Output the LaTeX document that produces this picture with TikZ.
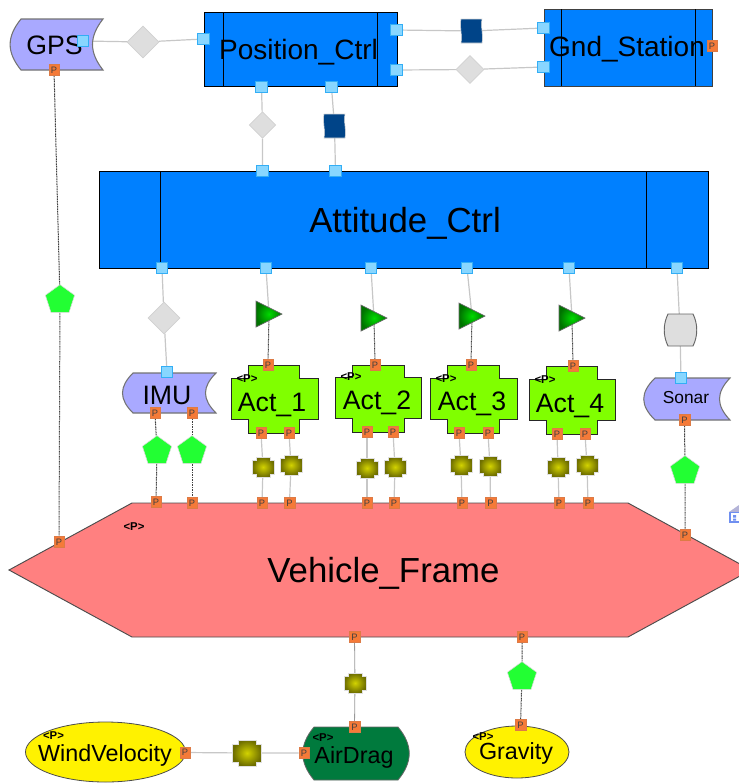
\documentclass[tikz,border=0pt]{standalone}
\usepackage{fontspec}
\setmainfont{Liberation Sans}
\usetikzlibrary{backgrounds,shapes.geometric}
\definecolor{ctrlblue}{HTML}{0080FF}
\definecolor{portblue}{HTML}{88D6FF}
\definecolor{portedge}{HTML}{33AEF5}
\definecolor{portorange}{HTML}{F57A38}
\definecolor{sensor}{HTML}{A9A9FF}
\definecolor{actgreen}{HTML}{80FF00}
\definecolor{framered}{HTML}{FF8080}
\definecolor{dragreen}{HTML}{007A3D}
\definecolor{penta}{HTML}{22FF33}
\definecolor{diam}{HTML}{DEDEDE}
\definecolor{navy2}{HTML}{004488}
\definecolor{iconblue}{HTML}{6F8FF0}
\definecolor{iconroof}{HTML}{B4B4D8}
\tikzset{
  px/.style={x=0.75pt,y=-0.75pt},
  label21/.style={anchor=base,inner sep=0pt,font=\fontsize{21}{21}\selectfont},
  label27/.style={anchor=base,inner sep=0pt,font=\fontsize{26.1}{27}\selectfont},
  label20/.style={anchor=base,inner sep=0pt,font=\fontsize{20}{20}\selectfont},
  label17/.style={anchor=base,inner sep=0pt,font=\fontsize{17.5}{18}\selectfont},
  tagp/.style={inner sep=0pt,font=\fontsize{8.5}{9}\bfseries\selectfont},
  ctrlbox/.style={draw=black,line width=0.7pt,fill=ctrlblue},
  ctrlline/.style={draw=black,line width=0.6pt},
  sensorbox/.style={draw=black!55,line width=0.8pt,fill=sensor},
  actbox/.style={draw=black!85,line width=0.7pt,fill=actgreen},
  svcport/.style={draw=portedge,fill=portblue,line width=0.6pt,minimum size=8.5pt,inner sep=0pt},
  parport/.style={draw=portorange!80!gray,fill=portorange,line width=0.3pt,minimum width=7.8pt,minimum height=8.5pt,inner sep=0pt,text=black!75,font=\fontsize{7}{7}\selectfont},
  diamondsym/.style={diamond,aspect=1,draw=black!18,fill=diam,line width=0.5pt,inner sep=0pt},
  pentsym/.style={regular polygon,regular polygon sides=5,draw=black!15,fill=penta,line width=0.4pt,inner sep=0pt,minimum size=23pt},
  svcline/.style={draw=black!22,line width=0.9pt},
  parline/.style={draw=black!75,dash pattern=on 0.8pt off 0.45pt,line width=0.75pt},
  thinline/.style={draw=black!40,line width=0.6pt},
}
% symbols: name, x, y
\newcommand{\svcp}[3]{\node[svcport] (#1) at (#2,#3) {};}
\newcommand{\parp}[3]{\node[parport] (#1) at (#2,#3) {P};}
\newcommand{\olivesym}[4]{\coordinate (#1) at (#2,#3);
  \shade[inner color=yellow!65!olive,outer color=olive!85!black,draw=black!12,line width=0.4pt]
   (#2-#4*0.68,#3-#4) -- (#2+#4*0.68,#3-#4) -- (#2+#4*0.68,#3-#4*0.68) -- (#2+#4*1.1,#3-#4*0.68)
   -- (#2+#4*1.1,#3+#4*0.68) -- (#2+#4*0.68,#3+#4*0.68) -- (#2+#4*0.68,#3+#4) -- (#2-#4*0.68,#3+#4)
   -- (#2-#4*0.68,#3+#4*0.68) -- (#2-#4*1.1,#3+#4*0.68) -- (#2-#4*1.1,#3-#4*0.68) -- (#2-#4*0.68,#3-#4*0.68) -- cycle;}
\newcommand{\trisym}[3]{\coordinate (#1) at (#2+13,#3);
  \shade[inner color=green!85!black,outer color=green!45!black,draw=black!60,line width=0.5pt]
   (#2,#3-13) -- (#2+26,#3) -- (#2,#3+13) -- cycle;}
\newcommand{\navysym}[3]{\coordinate (#1) at (#2,#3);
  \fill[navy2,draw=black!15,line width=0.4pt] (#2-10.5,#3-12) -- (#2+10.5,#3-12)
   .. controls (#2+9,#3-4) and (#2+12,#3+4) .. (#2+10.5,#3+12) -- (#2-10.5,#3+12)
   .. controls (#2-9,#3+4) and (#2-12,#3-4) .. (#2-10.5,#3-12) -- cycle;}
% sensor: left, tl, right, concave, top, bottom
\newcommand{\sensorshape}[6]{\path[sensorbox] (#2,#5) -- (#3,#5)
   .. controls (#4-3,#5+0.35*#6-0.35*#5) and (#4-3,#6-0.35*#6+0.35*#5) .. (#3,#6) -- (#2,#6)
   .. controls (#1-3,#6-0.35*#6+0.35*#5) and (#1-3,#5+0.35*#6-0.35*#5) .. (#2,#5) -- cycle;}
% act: x0,x1,x2,x3,y0,y1,y2,y3
\newcommand{\actshape}[8]{\path[actbox] (#2,#5) -- (#3,#5) -- (#3,#6) -- (#4,#6) -- (#4,#7) -- (#3,#7)
   -- (#3,#8) -- (#2,#8) -- (#2,#7) -- (#1,#7) -- (#1,#6) -- (#2,#6) -- cycle;}
\begin{document}
\begin{tikzpicture}[px]
\useasboundingbox (0,0) rectangle (739,783);
% large shapes
\begin{scope}
\clip (0,0) rectangle (739,783);
\path[fill=framered,draw=black!70,line width=0.7pt] (132,503) -- (628,503) -- (751,570) -- (628,637) -- (132,637) -- (9,570) -- cycle;
\fill[iconroof] (729,512) -- (739,505) -- (745,512) -- cycle;
\path[fill=white,draw=iconblue,line width=1pt] (730,512.5) rectangle (745,522);
\fill[iconblue] (733,515) rectangle (736,517.5) (733,518.5) rectangle (736,520.5);
\end{scope}
\path[ctrlbox] (204,12) rectangle (397,86);
\draw[ctrlline] (223,12) -- (223,86) (377,12) -- (377,86);
\path[ctrlbox,draw=black!75] (544,9) rectangle (712,86);
\draw[ctrlline] (561,9) -- (561,86) (695,9) -- (695,86);
\path[ctrlbox] (99,171) rectangle (708,268);
\draw[ctrlline] (160.5,171) -- (160.5,268) (646.5,171) -- (646.5,268);
\sensorshape{9.5}{21}{103}{92}{19}{70}
\sensorshape{122}{133}{216}{205}{373}{413}
\sensorshape{643}{655}{730}{719}{378}{420}
\actshape{231}{248}{299}{318}{365}{378}{419}{433}
\actshape{335}{352}{404}{421}{365}{377}{418}{432}
\actshape{430}{447}{499}{517}{365}{378}{419}{433}
\actshape{529}{546}{597}{615}{366}{379}{420}{434}
\path[fill=yellow,draw=black!70,line width=0.6pt] (105.5,752) ellipse [x radius=80,y radius=30];
\path[fill=yellow,draw=black!70,line width=0.6pt] (517,752) ellipse [x radius=52,y radius=26];
\path[fill=dragreen,draw=black!60,line width=0.6pt] (314,727) -- (398,727)
  .. controls (413,745) and (413,762) .. (398,780) -- (314,780)
  .. controls (299,762) and (299,745) .. (314,727) -- cycle;
% labels
\node[label21] (posctrl) at (298.5,59) {Position\_Ctrl};
\node[label21] (gnd) at (627,56) {Gnd\_Station};
\node[label27] (att) at (405,232) {Attitude\_Ctrl};
\node[label27] (frame) at (383.5,582) {Vehicle\_Frame};
\node[label20] (gps) at (54.5,54) {GPS};
\node[label20] (imu) at (167,404) {IMU};
\node[label20] (act1) at (272,411) {Act\_1};
\node[label20] (act2) at (377,409) {Act\_2};
\node[label20] (act3) at (472,410) {Act\_3};
\node[label20] (act4) at (570,412) {Act\_4};
\node[anchor=base,inner sep=0pt,font=\fontsize{13}{13}\selectfont] (sonar) at (686,403) {Sonar};
\node[label17] (wind) at (105,761.5) {WindVelocity};
\node[label17] (drag) at (354,763) {AirDrag};
\node[label17] (grav) at (516,759) {Gravity};
% <P> tags
\node[tagp] (t1) at (247,379) {<P>};
\node[tagp] (t2) at (351,377) {<P>};
\node[tagp] (t3) at (446,379) {<P>};
\node[tagp] (t4) at (545,380) {<P>};
\node[tagp] (t5) at (134,527) {<P>};
\node[tagp] (t6) at (53.5,736) {<P>};
\node[tagp] (t7) at (323,738) {<P>};
\node[tagp] (t8) at (483,737) {<P>};
% service ports
\svcp{gpsS}{83}{41}
\svcp{posL}{203.5}{39}
\svcp{posB1}{261.5}{87}
\svcp{posB2}{331.5}{87}
\svcp{attT1}{262.5}{171}
\svcp{attT2}{335.5}{171}
\svcp{posR1}{396.5}{30}
\svcp{posR2}{396.5}{70}
\svcp{gndL1}{543.5}{28}
\svcp{gndL2}{543.5}{67}
\svcp{attB1}{162}{268}
\svcp{attB2}{266}{268}
\svcp{attB3}{371}{268}
\svcp{attB4}{467}{268}
\svcp{attB5}{569}{268}
\svcp{attB6}{677}{268}
\svcp{imuS}{167}{372}
\svcp{sonS}{681}{378}
% parameter ports
\parp{gpsP}{54}{70}
\parp{gndP}{712}{46}
\parp{imuP1}{155}{413}
\parp{imuP2}{192}{413}
\parp{sonP}{684.5}{420}
\parp{a1T}{268}{365}
\parp{a2T}{375}{365}
\parp{a3T}{471}{365}
\parp{a4T}{573}{366}
\parp{a1B1}{261}{433}
\parp{a1B2}{289}{433}
\parp{a2B1}{367}{432}
\parp{a2B2}{393}{432}
\parp{a3B1}{459}{433}
\parp{a3B2}{488}{433}
\parp{a4B1}{557}{434}
\parp{a4B2}{585}{434}
\parp{f1}{156}{502}
\parp{f2}{192}{503}
\parp{f3}{262}{503}
\parp{f4}{289.5}{503}
\parp{f5}{367}{503}
\parp{f6}{394}{503}
\parp{f7}{462}{503}
\parp{f8}{490.5}{503}
\parp{f9}{559}{503}
\parp{f10}{588}{503}
\parp{fGps}{59}{542}
\parp{fSon}{685}{535}
\parp{fB1}{354.5}{637}
\parp{fB2}{522}{637}
\parp{dragT}{354.5}{727}
\parp{gravT}{520.5}{725}
\parp{windP}{185}{752.5}
\parp{dragL}{304}{753}
% connector symbols
\node[diamondsym,minimum size=24pt] (d1) at (143,42) {};
\node[diamondsym,minimum size=21pt] (d2) at (470,69.5) {};
\node[diamondsym,minimum size=20pt] (d3) at (262.5,125) {};
\node[diamondsym,minimum size=24pt] (d4) at (164,318) {};
\navysym{n1}{471.5}{31}
\navysym{n2}{334.5}{126}
\node[pentsym] (p0) at (60,300) {};
\node[pentsym] (p1) at (157,451) {};
\node[pentsym] (p2) at (192,451) {};
\node[pentsym] (p3) at (685,471) {};
\node[pentsym] (p4) at (522,677) {};
\trisym{tr1}{256}{314}
\trisym{tr2}{361}{318}
\trisym{tr3}{459}{316}
\trisym{tr4}{559}{318}
\olivesym{o1}{263}{467}{10}
\olivesym{o2}{291}{465}{10}
\olivesym{o3}{367}{468}{10}
\olivesym{o4}{395}{467}{10}
\olivesym{o5}{461}{465}{10}
\olivesym{o6}{490}{466}{10}
\olivesym{o7}{558}{467}{10}
\olivesym{o8}{587}{465}{10}
\olivesym{o9}{355}{683}{10}
\olivesym{o10}{247}{753}{13}
\path[fill=diam,draw=black!60,line width=0.7pt] (668,314) -- (693,314)
  .. controls (698,324) and (698,336) .. (693,346) -- (668,346)
  .. controls (663,336) and (663,324) .. (668,314) -- cycle;
\coordinate (barrel) at (680,330);
% connectors, behind everything
\begin{pgfonlayer}{background}
\draw[svcline] (gpsS) -- (d1) -- (posL);
\draw[svcline] (posR1) -- (n1) -- (gndL1);
\draw[svcline] (posR2) -- (d2) -- (gndL2);
\draw[svcline] (posB1) -- (d3) -- (attT1);
\draw[svcline] (posB2) -- (n2) -- (attT2);
\draw[svcline] (attB1) -- (d4) -- (imuS);
\draw[svcline] (attB6) -- (barrel) -- (sonS);
\draw[svcline] (attB2) -- (tr1);
\draw[svcline] (attB3) -- (tr2);
\draw[svcline] (attB4) -- (tr3);
\draw[svcline] (attB5) -- (tr4);
\draw[parline] (tr1) -- (a1T);
\draw[parline] (tr2) -- (a2T);
\draw[parline] (tr3) -- (a3T);
\draw[parline] (tr4) -- (a4T);
\draw[parline] (gpsP) -- (p0) -- (fGps);
\draw[parline] (imuP1) -- (p1) -- (f1);
\draw[parline] (imuP2) -- (p2) -- (f2);
\draw[parline] (sonP) -- (p3) -- (fSon);
\draw[parline] (fB2) -- (p4) -- (gravT);
\draw[svcline] (a1B1) -- (o1) -- (f3);
\draw[svcline] (a1B2) -- (o2) -- (f4);
\draw[svcline] (a2B1) -- (o3) -- (f5);
\draw[svcline] (a2B2) -- (o4) -- (f6);
\draw[svcline] (a3B1) -- (o5) -- (f7);
\draw[svcline] (a3B2) -- (o6) -- (f8);
\draw[svcline] (a4B1) -- (o7) -- (f9);
\draw[svcline] (a4B2) -- (o8) -- (f10);
\draw[thinline] (fB1) -- (o9) -- (dragT);
\draw[svcline] (windP) -- (o10) -- (dragL);
\end{pgfonlayer}
\end{tikzpicture}
\end{document}
